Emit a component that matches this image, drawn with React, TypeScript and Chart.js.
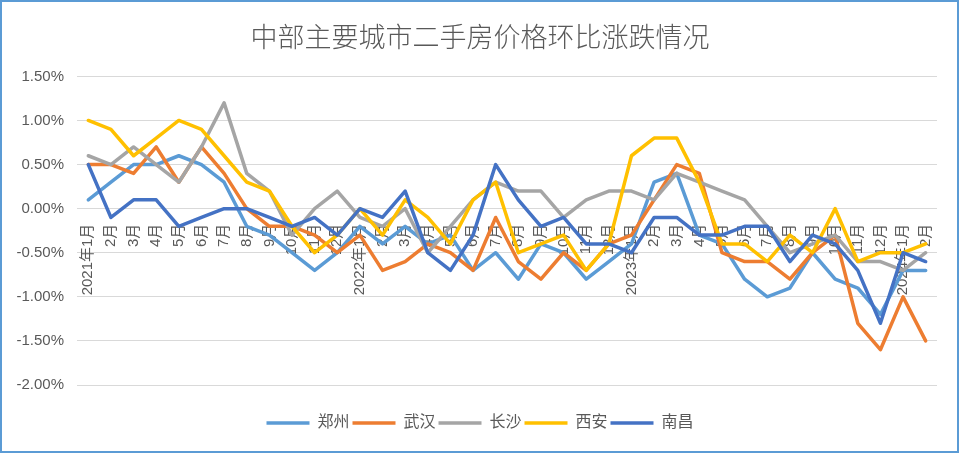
import React, { useEffect, useRef } from 'react';
import { Chart, registerables } from 'chart.js';

Chart.register(...registerables);

const categories: string[] = [
  '2021年1月', '2月', '3月', '4月', '5月', '6月', '7月', '8月', '9月', '10月', '11月', '12月',
  '2022年1月', '2月', '3月', '4月', '5月', '6月', '7月', '8月', '9月', '10月', '11月', '12月',
  '2023年1月', '2月', '3月', '4月', '5月', '6月', '7月', '8月', '9月', '10月', '11月', '12月',
  '2024年1月', '2月',
];

const zhengzhou: number[] = [
  0.1, 0.3, 0.5, 0.5, 0.6, 0.5, 0.3, -0.2, -0.3, -0.5, -0.7, -0.5,
  -0.2, -0.4, -0.2, -0.4, -0.3, -0.7, -0.5, -0.8, -0.4, -0.5, -0.8, -0.6,
  -0.4, 0.3, 0.4, -0.3, -0.4, -0.8, -1.0, -0.9, -0.5, -0.8, -0.9, -1.2,
  -0.7, -0.7,
];

const wuhan: number[] = [
  0.5, 0.5, 0.4, 0.7, 0.3, 0.7, 0.4, 0.0, -0.2, -0.2, -0.3, -0.5,
  -0.3, -0.7, -0.6, -0.4, -0.5, -0.7, -0.1, -0.6, -0.8, -0.5, -0.7, -0.4,
  -0.3, 0.1, 0.5, 0.4, -0.5, -0.6, -0.6, -0.8, -0.5, -0.3, -1.3, -1.6,
  -1.0, -1.5,
];

const changsha: number[] = [
  0.6, 0.5, 0.7, 0.5, 0.3, 0.7, 1.2, 0.4, 0.2, -0.3, 0.0, 0.2,
  -0.1, -0.2, 0.0, -0.5, -0.2, 0.1, 0.3, 0.2, 0.2, -0.1, 0.1, 0.2,
  0.2, 0.1, 0.4, 0.3, 0.2, 0.1, -0.2, -0.5, -0.4, -0.3, -0.6, -0.6,
  -0.7, -0.5,
];

const xian: number[] = [
  1.0, 0.9, 0.6, 0.8, 1.0, 0.9, 0.6, 0.3, 0.2, -0.2, -0.5, -0.3,
  0.0, -0.3, 0.1, -0.1, -0.4, 0.1, 0.3, -0.5, -0.4, -0.3, -0.7, -0.4,
  0.6, 0.8, 0.8, 0.3, -0.4, -0.4, -0.6, -0.3, -0.5, 0.0, -0.6, -0.5,
  -0.5, -0.4,
];

const nanchang: number[] = [
  0.5, -0.1, 0.1, 0.1, -0.2, -0.1, 0.0, 0.0, -0.1, -0.2, -0.1, -0.3,
  0.0, -0.1, 0.2, -0.5, -0.7, -0.3, 0.5, 0.1, -0.2, -0.1, -0.4, -0.4,
  -0.5, -0.1, -0.1, -0.3, -0.3, -0.2, -0.2, -0.6, -0.3, -0.4, -0.7, -1.3,
  -0.5, -0.6,
];

const seriesNames: string[] = ['郑州', '武汉', '长沙', '西安', '南昌'];
const seriesColors: string[] = ['#5B9BD5', '#ED7D31', '#A5A5A5', '#FFC000', '#4472C4'];
const yTickMin = -2;
const yTickMax = 1.5;
const yTickStep = 0.5;
const titleText = '中部主要城市二手房价格环比涨跌情况';

const FONT = '"Liberation Sans", "Noto Sans CJK SC", sans-serif';
const TEXT_COLOR = '#595959';

const framePlugin = {
  id: 'frame',
  afterDraw(chart: any) {
    const ctx = chart.ctx;
    ctx.save();
    ctx.strokeStyle = '#5B9BD5';
    ctx.lineWidth = 2;
    ctx.strokeRect(1, 1, chart.width - 3, chart.height - 2);
    ctx.restore();
  },
};

export default function App() {
  const ref = useRef<HTMLCanvasElement>(null);

  useEffect(() => {
    const allSeries = [zhengzhou, wuhan, changsha, xian, nanchang];
    const chart = new Chart(ref.current as HTMLCanvasElement, {
      type: 'line',
      data: {
        labels: categories,
        datasets: allSeries.map((values, i) => ({
          label: seriesNames[i],
          data: values,
          borderColor: seriesColors[i],
          backgroundColor: seriesColors[i],
          borderWidth: 3.5,
          pointRadius: 0,
          pointHoverRadius: 0,
          tension: 0,
          fill: false,
          borderJoinStyle: 'round' as const,
          borderCapStyle: 'round' as const,
          order: allSeries.length - i,
          xAxisID: 'x',
          yAxisID: 'y',
        })),
      },
      options: {
        responsive: false,
        animation: false,
        layout: { padding: { left: 0, right: 0, top: 0, bottom: 12 } },
        plugins: {
          title: {
            display: true,
            text: titleText,
            color: TEXT_COLOR,
            font: { family: '"Noto Sans CJK SC", sans-serif', size: 27, weight: '300' as any },
            padding: { top: 21, bottom: 23 },
          },
          legend: {
            display: true,
            position: 'bottom',
            labels: {
              usePointStyle: true,
              pointStyle: 'line',
              pointStyleWidth: 43,
              color: TEXT_COLOR,
              font: { family: FONT, size: 16 },
              padding: 3,
              sort: (a: any, b: any) => a.datasetIndex - b.datasetIndex,
            },
          },
          tooltip: { enabled: false },
        },
        scales: {
          x: {
            type: 'category',
            position: { y: 0 } as any,
            offset: true,
            grid: { display: false, drawTicks: false },
            border: { display: false },
            ticks: {
              autoSkip: false,
              minRotation: 90,
              maxRotation: 90,
              padding: 15,
              color: TEXT_COLOR,
              font: { family: FONT, size: 15 },
            },
          },
          xPad: {
            type: 'category',
            position: 'bottom',
            labels: categories,
            grid: { display: false, drawTicks: false },
            border: { display: false },
            ticks: { display: false },
            afterFit: (s: any) => { s.height = 27; },
          },
          y: {
            type: 'linear',
            position: 'left',
            min: yTickMin,
            max: yTickMax,
            grid: { color: '#D9D9D9', lineWidth: 1, drawTicks: false },
            border: { display: false },
            ticks: {
              stepSize: yTickStep,
              padding: 13,
              color: TEXT_COLOR,
              font: { family: FONT, size: 15 },
              callback: (v: any) => Number(v).toFixed(2) + '%',
            },
            afterFit: (s: any) => { s.width = 77; },
          },
          yPad: {
            type: 'linear',
            position: 'right',
            grid: { display: false, drawTicks: false },
            border: { display: false },
            ticks: { display: false },
            afterFit: (s: any) => { s.width = 23; },
          },
        },
      },
      plugins: [framePlugin],
    });
    return () => chart.destroy();
  }, []);

  return (
    <div style={{ position: 'absolute', left: 0, top: 0, width: 960, height: 453, background: '#fff' }}>
      <canvas ref={ref} width={960} height={453} style={{ display: 'block' }} />
    </div>
  );
}
